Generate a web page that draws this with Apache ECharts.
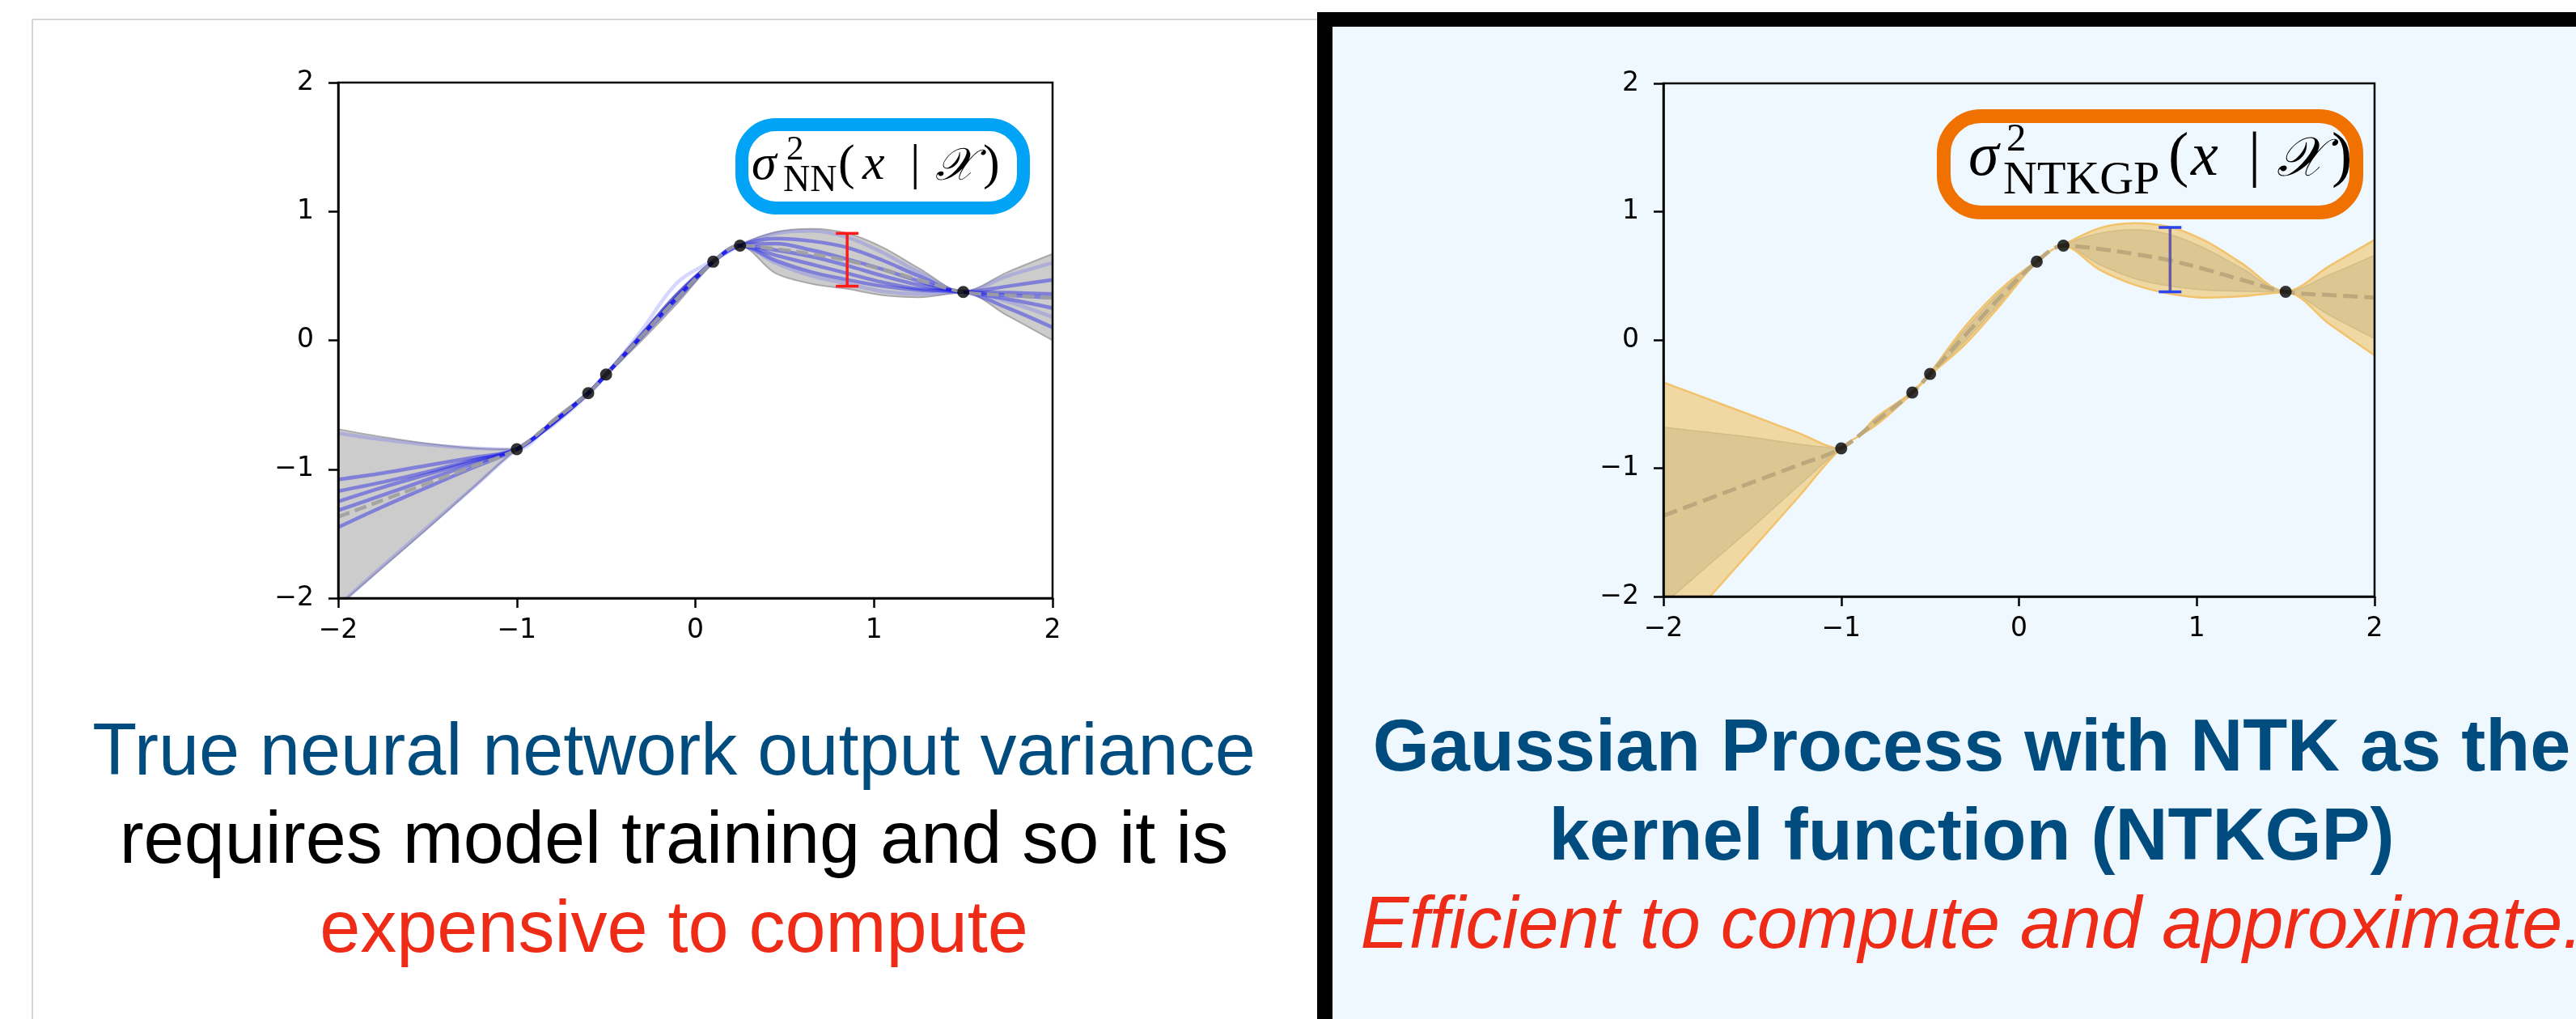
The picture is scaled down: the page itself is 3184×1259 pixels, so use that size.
<!DOCTYPE html>
<html>
<head>
<meta charset="utf-8">
<script src="https://cdn.jsdelivr.net/npm/echarts@6/dist/echarts.min.js"></script>
<style>
  html, body { margin: 0; padding: 0; background: #ffffff; overflow: hidden; }
  #main { width: 3184px; height: 1259px; }
</style>
</head>
<body>
<div id="main"></div>
<script>
// ---- shared input grid and training points ----
const xs = [-2, -1.75, -1.5, -1.25, -1, -0.8, -0.6, -0.5, -0.3, -0.1, 0.1, 0.25, 0.45, 0.65, 0.85, 1.05, 1.25, 1.5, 1.75, 2];
const trainX = [-1, -0.6, -0.5, 0.1, 0.25, 1.5];
const trainY = [-0.845, -0.41, -0.265, 0.61, 0.735, 0.375];
const tickValues = [-2, -1, 0, 1, 2];

// ---- left: trained network ensemble ----
const nnMean  = [-1.37, -1.24, -1.11, -0.98, -0.845, -0.63, -0.41, -0.265, 0.035, 0.33, 0.61, 0.735, 0.71, 0.67, 0.62, 0.55, 0.47, 0.375, 0.35, 0.33];
const nnUpper = [-0.69, -0.75, -0.80, -0.835, -0.845, -0.615, -0.40, -0.255, 0.06, 0.37, 0.615, 0.74, 0.84, 0.865, 0.83, 0.72, 0.56, 0.38, 0.53, 0.67];
const nnLower = [-2.06, -1.76, -1.46, -1.15, -0.845, -0.66, -0.42, -0.275, 0.0, 0.29, 0.60, 0.73, 0.52, 0.44, 0.40, 0.35, 0.335, 0.37, 0.19, 0.0];
const nnRun1 = [-0.72, -0.77, -0.81, -0.835, -0.845, -0.63, -0.405, -0.26, 0.05, 0.35, 0.61, 0.735, 0.83, 0.85, 0.80, 0.68, 0.53, 0.375, 0.50, 0.60];
const nnRun2 = [-1.08, -1.03, -0.97, -0.91, -0.845, -0.64, -0.41, -0.265, 0.03, 0.33, 0.61, 0.735, 0.79, 0.77, 0.72, 0.62, 0.50, 0.375, 0.42, 0.47];
const nnRun3 = [-1.17, -1.10, -1.02, -0.93, -0.845, -0.64, -0.41, -0.265, 0.04, 0.34, 0.61, 0.735, 0.75, 0.70, 0.63, 0.55, 0.46, 0.375, 0.37, 0.36];
const nnRun4 = [-1.25, -1.14, -1.04, -0.94, -0.845, -0.645, -0.41, -0.265, 0.035, 0.34, 0.61, 0.735, 0.70, 0.65, 0.58, 0.50, 0.43, 0.375, 0.35, 0.33];
const nnRun5 = [-1.32, -1.20, -1.08, -0.96, -0.845, -0.64, -0.41, -0.265, 0.03, 0.32, 0.61, 0.735, 0.66, 0.59, 0.52, 0.45, 0.40, 0.375, 0.32, 0.25];
const nnRun6 = [-1.45, -1.29, -1.14, -0.99, -0.845, -0.645, -0.41, -0.265, 0.04, 0.36, 0.61, 0.735, 0.62, 0.53, 0.47, 0.42, 0.39, 0.375, 0.25, 0.10];
const nnRun7 = [-2.06, -1.75, -1.45, -1.15, -0.845, -0.66, -0.42, -0.27, 0.08, 0.45, 0.62, 0.735, 0.60, 0.50, 0.44, 0.38, 0.36, 0.375, 0.30, 0.18];
const nnErrorBar = [0.85, 0.42, 0.83];   // x, low, high

// ---- right: NTK Gaussian process posterior ----
const gpMean   = [-1.37, -1.24, -1.11, -0.98, -0.845, -0.63, -0.41, -0.265, 0.04, 0.34, 0.61, 0.735, 0.71, 0.67, 0.62, 0.55, 0.47, 0.375, 0.35, 0.33];
const gpOuterUpper = [-0.33, -0.46, -0.59, -0.72, -0.845, -0.60, -0.405, -0.255, 0.11, 0.40, 0.615, 0.74, 0.87, 0.91, 0.88, 0.77, 0.60, 0.38, 0.58, 0.78];
const gpOuterLower = [-2.41, -2.02, -1.63, -1.24, -0.845, -0.66, -0.415, -0.275, -0.03, 0.28, 0.605, 0.73, 0.55, 0.43, 0.36, 0.33, 0.34, 0.37, 0.12, -0.12];
const gpInnerUpper = [-0.68, -0.72, -0.76, -0.81, -0.845, -0.61, -0.407, -0.258, 0.085, 0.38, 0.613, 0.738, 0.83, 0.86, 0.82, 0.71, 0.56, 0.378, 0.51, 0.66];
const gpInnerLower = [-2.06, -1.76, -1.46, -1.15, -0.845, -0.65, -0.413, -0.272, -0.005, 0.30, 0.607, 0.732, 0.59, 0.48, 0.42, 0.39, 0.38, 0.372, 0.19, 0.01];
const gpErrorBar = [0.85, 0.375, 0.877];

const pairs = (a, b) => a.map((v, i) => [v, b[i]]);
const minus = v => String(v).replace('-', '\u2212');

const WHITE = '#ffffff';
const PANEL = '#eef8fe';

function makeAxes(gridIndex) {
  const common = {
    type: 'value', gridIndex: gridIndex, z: 10,
    min: tickValues[0], max: tickValues[tickValues.length - 1], interval: 1,
    splitLine: { show: false },
    axisLine: { show: true, onZero: false, lineStyle: { color: '#000', width: 2.5 } },
    axisTick: { show: true, length: 12, lineStyle: { color: '#000', width: 2.5 } }
  };
  return {
    x: Object.assign({}, common, {
      axisLabel: { fontFamily: 'DejaVu Sans', fontSize: 33, color: '#000', margin: 24, formatter: minus }
    }),
    y: Object.assign({}, common, {
      axisLabel: { fontFamily: 'DejaVu Sans', fontSize: 33, color: '#000', margin: 30, formatter: minus }
    })
  };
}

// A band edge whose area is filled down to the bottom of the axis; bands are
// layered from the top edge down so each fill shows only between its edges.
function edgeFill(idx, ys, fill, edge, edgeWidth, z) {
  return { type: 'line', xAxisIndex: idx, yAxisIndex: idx, data: pairs(xs, ys), symbol: 'none',
    smooth: 0.35, z: z, lineStyle: { color: edge, width: edgeWidth },
    areaStyle: { color: fill, opacity: 1, origin: 'start' } };
}

function curve(idx, ys, color, width, dash, z) {
  return { type: 'line', xAxisIndex: idx, yAxisIndex: idx, data: pairs(xs, ys), symbol: 'none',
    smooth: 0.35, z: z, lineStyle: { color: color, width: width, type: dash || 'solid' } };
}

function errorBar(idx, bar, stemColor, capColor) {
  return {
    type: 'custom', xAxisIndex: idx, yAxisIndex: idx, z: 8,
    data: [bar], encode: { x: 0, y: [1, 2] },
    renderItem: function (params, api) {
      const x = api.value(0);
      const a = api.coord([x, api.value(1)]);
      const b = api.coord([x, api.value(2)]);
      const cap = 14;
      return { type: 'group', children: [
        { type: 'line', shape: { x1: a[0], y1: a[1], x2: b[0], y2: b[1] }, style: { stroke: stemColor, lineWidth: 3.5 } },
        { type: 'line', shape: { x1: a[0] - cap, y1: a[1], x2: a[0] + cap, y2: a[1] }, style: { stroke: capColor, lineWidth: 3.5 } },
        { type: 'line', shape: { x1: b[0] - cap, y1: b[1], x2: b[0] + cap, y2: b[1] }, style: { stroke: capColor, lineWidth: 3.5 } }
      ] };
    }
  };
}

function points(idx) {
  return { type: 'scatter', xAxisIndex: idx, yAxisIndex: idx, data: pairs(trainX, trainY),
    symbol: 'circle', symbolSize: 15, itemStyle: { color: '#000' }, z: 9 };
}

const leftAxes = makeAxes(0);
const rightAxes = makeAxes(1);

const runColor = 'rgba(15,15,235,0.4)';
const runLight = 'rgba(70,70,255,0.22)';

const series = [
  // left panel
  edgeFill(0, nnUpper, '#cccccc', '#a9a9a9', 2, 1),
  edgeFill(0, nnLower, WHITE, '#a9a9a9', 2, 2),
  curve(0, nnRun1, runLight, 4.5, null, 3),
  curve(0, nnRun2, runColor, 4.5, null, 3),
  curve(0, nnRun3, runColor, 4.5, null, 3),
  curve(0, nnRun4, runColor, 4.5, null, 3),
  curve(0, nnRun5, runColor, 4.5, null, 3),
  curve(0, nnRun6, runColor, 4.5, null, 3),
  curve(0, nnRun7, runLight, 4.5, null, 3),
  curve(0, nnMean, 'rgba(160,160,160,0.9)', 4.5, [15, 7], 4),
  errorBar(0, nnErrorBar, '#ff1a1a', '#ff1a1a'),
  points(0),
  // right panel
  edgeFill(1, gpOuterUpper, '#efd8a2', '#f2c36c', 2.5, 1),
  edgeFill(1, gpInnerUpper, '#dcc792', '#d2bc88', 1.5, 2),
  edgeFill(1, gpInnerLower, '#efd8a2', '#d2bc88', 1.5, 3),
  edgeFill(1, gpOuterLower, PANEL, '#f2c36c', 2.5, 4),
  curve(1, gpMean, 'rgba(188,168,124,1)', 5, [18, 8], 6),
  errorBar(1, gpErrorBar, '#6a58a6', '#2a45f0'),
  points(1)
];

// ---- page panels, formula boxes and captions ----
function glyph(t, x, baseline, size, style, family, color) {
  const font = (style || 'normal') + ' ' + size + 'px ' + (family || '"Liberation Serif", "DejaVu Serif", serif');
  return { type: 'text', z: 120, silent: true,
    style: { text: t, x: x, y: baseline - 0.34 * size, font: font, fill: color || '#000',
      align: 'left', verticalAlign: 'middle', textAlign: 'left', textVerticalAlign: 'middle' } };
}
function caption(t, cx, baseline, style, color) {
  const font = style + ' 90px "Liberation Sans", Arial, sans-serif';
  return { type: 'text', z: 120, silent: true,
    style: { text: t, x: cx, y: baseline - 0.3465 * 90, font: font, fill: color,
      align: 'center', verticalAlign: 'middle', textAlign: 'center', textVerticalAlign: 'middle' } };
}

const graphics = [
  // left panel frame
  { type: 'line', z: -10, silent: true, shape: { x1: 40, y1: 24, x2: 1630, y2: 24 }, style: { stroke: '#d6d6d6', lineWidth: 2 } },
  { type: 'line', z: -10, silent: true, shape: { x1: 40, y1: 24, x2: 40, y2: 1300 }, style: { stroke: '#d6d6d6', lineWidth: 2 } },
  // right panel: heavy black frame and tinted background
  { type: 'rect', z: -10, silent: true, shape: { x: 1628, y: 15, width: 1700, height: 1400 }, style: { fill: '#000' } },
  { type: 'rect', z: -9, silent: true, shape: { x: 1647, y: 33, width: 1700, height: 1400 }, style: { fill: PANEL } },

  // formula boxes
  { type: 'rect', z: 110, silent: true, shape: { x: 917, y: 154, width: 348, height: 103, r: 42 },
    style: { fill: WHITE, stroke: '#00a3f5', lineWidth: 16 } },
  { type: 'rect', z: 110, silent: true, shape: { x: 2402.5, y: 143.5, width: 510, height: 119, r: 46 },
    style: { fill: PANEL, stroke: '#f07100', lineWidth: 17 } },

  glyph('\u03c3', 929, 226, 62, 'italic'),
  glyph('2', 972, 200, 43),
  glyph('NN', 968, 240, 46),
  glyph('(', 1036, 226, 62),
  glyph('x', 1066, 226, 62, 'italic'),
  glyph('|', 1125, 226, 62),
  glyph('\ud835\udcb3', 1156, 226, 56, 'italic'),
  glyph(')', 1215, 226, 62),

  glyph('\u03c3', 2433, 222, 76, 'italic'),
  glyph('2', 2480, 190, 49),
  glyph('NTKGP', 2476, 243, 58),
  glyph('(', 2680, 222, 76),
  glyph('x', 2708, 222, 76, 'italic'),
  glyph('|', 2779, 222, 76),
  glyph('\ud835\udcb3', 2814, 222, 68, 'italic'),
  glyph(')', 2882, 222, 76),

  // captions
  caption('True neural network output variance', 833, 963, 'normal', '#004c7f'),
  caption('requires model training and so it is', 833, 1072, 'normal', '#000000'),
  caption('expensive to compute', 833, 1182, 'normal', '#ee2b16'),
  caption('Gaussian Process with NTK as the', 2437, 958, 'bold', '#004c7f'),
  caption('kernel function (NTKGP)', 2437, 1068, 'bold', '#004c7f'),
  caption('Efficient to compute and approximate.', 2437, 1177, 'italic', '#ee2b16')
];

const chart = echarts.init(document.getElementById('main'), null, { renderer: 'canvas' });
chart.setOption({
  animation: false,
  backgroundColor: 'transparent',
  grid: [
    { left: 418, top: 102, width: 883, height: 637, show: true, z: 10, borderColor: '#000', borderWidth: 2.5, backgroundColor: 'transparent' },
    { left: 2056, top: 103, width: 879, height: 634, show: true, z: 10, borderColor: '#000', borderWidth: 2.5, backgroundColor: 'transparent' }
  ],
  xAxis: [leftAxes.x, rightAxes.x],
  yAxis: [leftAxes.y, rightAxes.y],
  series: series,
  graphic: { elements: graphics }
});
</script>
</body>
</html>
